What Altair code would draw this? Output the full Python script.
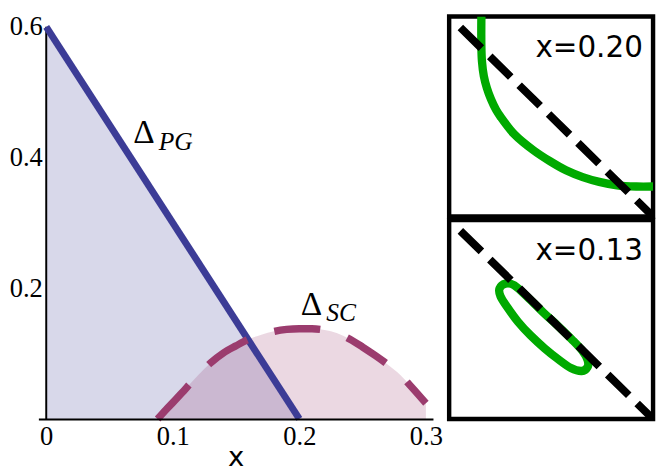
import altair as alt
import pandas as pd

# ---------------- main panel data ----------------
pg_x = [0.0, 0.2]
pg_y = [0.6, 0.0]

sc_x = [0.088, 0.095, 0.10, 0.11, 0.12, 0.13, 0.14, 0.15, 0.16, 0.17, 0.18, 0.19,
        0.20, 0.21, 0.22, 0.23, 0.24, 0.25, 0.26, 0.27, 0.28, 0.29, 0.30]
sc_y = [0.000, 0.015, 0.025, 0.046, 0.067, 0.086, 0.101, 0.112, 0.122, 0.129, 0.134, 0.137,
        0.138, 0.138, 0.136, 0.131, 0.122, 0.110, 0.097, 0.083, 0.067, 0.046, 0.024]

x_ticks = [0, 0.1, 0.2, 0.3]
y_ticks = [0.2, 0.4, 0.6]
x_domain = [-0.0062, 0.3056]
y_domain = [0.0, 0.61575]

yaxis_x = [0.0]
yaxis_y0 = [0.0]
yaxis_y1 = [0.6]

lab_x = [0.0687, 0.2012]
lab_y = [0.4218, 0.1598]
lab_sub = ["PG", "SC"]

# ---------------- inset panels data ----------------
diag_u = [0.055, 1.0]
diag_v = [0.945, 0.0]

top_u = [0.158, 0.158, 0.161, 0.170, 0.185, 0.205, 0.230, 0.252, 0.319, 0.415, 0.492,
         0.573, 0.655, 0.736, 0.823, 0.918, 1.0]
top_v = [1.0, 0.850, 0.775, 0.703, 0.643, 0.587, 0.534, 0.499, 0.412, 0.330, 0.278,
         0.231, 0.197, 0.173, 0.156, 0.150, 0.150]

ell_u = [0.276, 0.319, 0.391, 0.463, 0.535, 0.607, 0.655, 0.679, 0.679,
         0.650, 0.597, 0.535, 0.468, 0.400, 0.338, 0.285, 0.252, 0.247]
ell_v = [0.680, 0.672, 0.606, 0.534, 0.466, 0.394, 0.340, 0.296, 0.261,
         0.241, 0.256, 0.300, 0.355, 0.419, 0.488, 0.562, 0.616, 0.655]

panel_labels = ["x=0.20", "x=0.13"]
label_u = [0.950]
label_v = [0.80]

# ---------------- styles ----------------
BLUE = "#3c3c96"
PURPLE = "#9b3c6e"
GREEN = "#00aa00"
SERIF = "Liberation Serif, 'Times New Roman', Times, 'DejaVu Serif', serif"
SANS = "'DejaVu Sans', sans-serif"

# ---------------- main chart ----------------
pg_df = pd.DataFrame({"x": pg_x, "y": pg_y})
sc_df = pd.DataFrame({"x": sc_x, "y": sc_y})
yaxis_df = pd.DataFrame({"x": yaxis_x, "y": yaxis_y0, "y2": yaxis_y1})
lab_df = pd.DataFrame({"x": lab_x, "y": lab_y, "sub": lab_sub})

xs = alt.Scale(domain=x_domain, nice=False, zero=False)
ys = alt.Scale(domain=y_domain, nice=False, zero=False)

X = alt.X(
    "x:Q", scale=xs,
    axis=alt.Axis(values=x_ticks, format="~g", title="x", ticks=False, tickSize=0,
                  domain=True, domainColor="black", domainWidth=2, grid=False,
                  labelFont=SERIF, labelFontSize=27, labelColor="black",
                  labelPadding=5, labelFlush=False,
                  titleFont=SANS, titleFontSize=28, titleFontWeight="normal",
                  titleColor="black", titlePadding=-6, zindex=1),
)
Y = alt.Y(
    "y:Q", scale=ys,
    axis=alt.Axis(values=y_ticks, format="~g", title=None, ticks=False, tickSize=0,
                  domain=False, grid=False,
                  labelFont=SERIF, labelFontSize=27, labelColor="black",
                  labelPadding=-4),
)

pg_area = alt.Chart(pg_df).mark_area(color=BLUE, opacity=0.2).encode(x=X, y=Y)
sc_area = alt.Chart(sc_df).mark_area(color=PURPLE, opacity=0.2,
                                     interpolate="monotone").encode(x=X, y=Y)
yaxis_rule = alt.Chart(yaxis_df).mark_rule(color="black", strokeWidth=2).encode(
    x=X, y=Y, y2="y2:Q")
pg_line = alt.Chart(pg_df).mark_line(color=BLUE, strokeWidth=7).encode(x=X, y=Y)
sc_line = alt.Chart(sc_df).mark_line(color=PURPLE, strokeWidth=7.5, interpolate="monotone",
                                     strokeDash=[47, 29]).encode(x=X, y=Y)
delta = alt.Chart(lab_df).mark_text(text="Δ", align="left", baseline="alphabetic",
                                    font=SERIF, fontSize=34, color="black").encode(x=X, y=Y)
subs = alt.Chart(lab_df).mark_text(align="left", baseline="alphabetic", font=SERIF,
                                   fontStyle="italic", fontSize=26, color="black",
                                   dx=26, dy=7).encode(x=X, y=Y, text="sub:N")

main = alt.layer(pg_area, sc_area, yaxis_rule, pg_line, sc_line, delta, subs).properties(
    width=402.5, height=410.5)

# ---------------- inset panels ----------------
ps = alt.Scale(domain=[0, 1], nice=False, zero=False)
U = alt.X("u:Q", scale=ps, axis=None)
V = alt.Y("v:Q", scale=ps, axis=None)

diag_df = pd.DataFrame({"u": diag_u, "v": diag_v})
label_df = pd.DataFrame({"u": label_u, "v": label_v})


def panel(gu, gv, text, h, interp):
    gdf = pd.DataFrame({"u": gu, "v": gv, "i": list(range(len(gu)))})
    green = alt.Chart(gdf).mark_line(color=GREEN, strokeWidth=8.5, clip=True,
                                     interpolate=interp).encode(x=U, y=V, order="i:Q")
    diag = alt.Chart(diag_df).mark_line(color="black", strokeWidth=8,
                                        strokeDash=[30, 12], clip=True).encode(x=U, y=V)
    lab = alt.Chart(label_df).mark_text(text=text, align="right", baseline="alphabetic",
                                        font=SANS, fontSize=30, color="black").encode(x=U, y=V)
    return alt.layer(green, diag, lab).properties(
        width=208, height=h,
        view=alt.ViewBackground(stroke="black", strokeWidth=4.5))


top = panel(top_u, top_v, panel_labels[0], 204, "catmull-rom")
bottom = panel(ell_u, ell_v, panel_labels[1], 203, "cardinal-closed")

right = alt.vconcat(top, bottom, spacing=3.5, bounds="flush")

chart = alt.hconcat(main, right, spacing=16, bounds="flush").properties(
    padding=0).configure_view(stroke="transparent")

chart.save("out.html", embed_options={"renderer": "svg", "actions": False})
